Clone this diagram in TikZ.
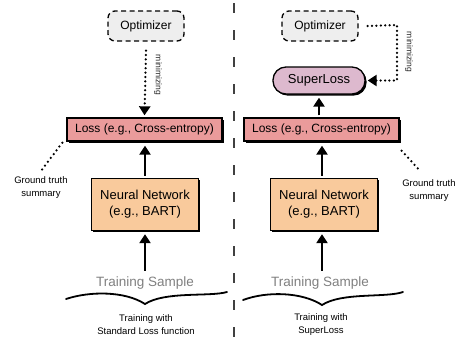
\documentclass[tikz,border=0pt]{standalone}
\usepackage{fontspec}
\setmainfont{Liberation Sans}
\usetikzlibrary{arrows.meta}
\definecolor{lossfill}{HTML}{EA9B9B}
\definecolor{nnfill}{HTML}{F9CA9C}
\definecolor{slfill}{HTML}{DDB9CE}
\definecolor{optfill}{HTML}{EEEEEE}
\definecolor{sampgray}{HTML}{808080}
\tikzset{
  shadowed/.style={preaction={fill=black, transform canvas={shift={(1.6pt,-1.6pt)}}}},
  lossbox/.style={draw=black, line width=1.3pt, fill=lossfill, shadowed, minimum width=155pt, minimum height=23pt, inner sep=0pt, font=\fontsize{12}{14}\selectfont},
  nnbox/.style={draw=black, line width=1.3pt, fill=nnfill, shadowed, minimum width=107pt, minimum height=52pt, inner sep=0pt, align=center, font=\fontsize{13}{16}\selectfont},
  optbox/.style={draw=black, line width=1.3pt, dash pattern=on 5pt off 3.5pt, rounded corners=7pt, fill=optfill, minimum width=76pt, minimum height=30pt, inner sep=0pt, font=\fontsize{12}{14}\selectfont},
  slbox/.style={draw=black, line width=1.3pt, fill=slfill, shadowed, rounded corners=13pt, minimum width=92pt, minimum height=27pt, inner sep=0pt, font=\fontsize{13}{15}\selectfont},
  samp/.style={text=sampgray, font=\fontsize{13.5}{16}\selectfont, inner sep=0pt},
  smalltxt/.style={align=center, font=\fontsize{9.5}{13}\selectfont, inner sep=0pt},
  minlab/.style={rotate=-90, font=\fontsize{8.5}{10}\selectfont, inner sep=0pt, text=black!85},
  thickarrow/.style={line width=2.4pt, -{Triangle[width=11pt,length=9pt]}},
  dotarrow/.style={line width=2.5pt, line cap=round, dash pattern=on 0pt off 4.4pt, -{Triangle[width=11pt,length=9pt]}},
  dotline/.style={line width=2.5pt, line cap=round, dash pattern=on 0pt off 4.8pt},
  bracestyle/.style={line width=1.8pt, line cap=round}
}
\begin{document}
\begin{tikzpicture}[x=1pt,y=-1pt]
\useasboundingbox (0,0) rectangle (461,338);
% divider
\coordinate (dtop) at (234,3);
\coordinate (dbot) at (234,338);
\draw[line width=2pt, color=black!75, dash pattern=on 10pt off 17pt] (dtop) -- (dbot);

% ---------- left ----------
\node[optbox] (optL) at (146,26) {Optimizer};
\node[lossbox] (lossL) at (144.5,129.5) {Loss (e.g., Cross-entropy)};
\node[nnbox] (nnL) at (145,204.5) {Neural Network\\(e.g., BART)};
\node[samp] (sampL) at (145,283) {Training Sample};
\node[smalltxt] (gtL) at (41,188) {Ground truth\\summary};
\node[smalltxt] (capL) at (146,325) {Training with\\Standard Loss function};
\node[minlab] (minL) at (158,75) {minimizing};

\draw[dotarrow] ([yshift=-9pt]optL.south) -- ([yshift=2pt]lossL.north);
\draw[thickarrow] ([yshift=2pt]nnL.north -| 145,0) -- ([yshift=-4pt]lossL.south -| 145,0);
\draw[thickarrow] ([yshift=6pt]sampL.north) -- ([yshift=-3pt]nnL.south);
\draw[dotline] ([shift={(-4pt,-1pt)}]lossL.south west) -- ([yshift=6pt]gtL.north);
\coordinate (bL1) at (66,299);
\coordinate (bLm) at (145,304);
\coordinate (bL2) at (227,292);
\draw[bracestyle] (bL1) .. controls (90,291) and (125,291) .. (bLm) .. controls (165,291) and (210,297) .. (bL2);

% ---------- right ----------
\node[optbox] (optR) at (320,26) {Optimizer};
\node[slbox] (sl) at (319,80.5) {SuperLoss};
\node[lossbox] (lossR) at (321.5,129.5) {Loss (e.g., Cross-entropy)};
\node[nnbox] (nnR) at (324,204.5) {Neural Network\\(e.g., BART)};
\node[samp] (sampR) at (320,283) {Training Sample};
\node[smalltxt] (gtR) at (429,191) {Ground truth\\summary};
\node[smalltxt] (capR) at (321,325) {Training with\\SuperLoss};
\node[minlab] (minR) at (409,52) {minimizing};

\coordinate (mc) at (397,25);
\draw[dotarrow] ([xshift=9pt]optR.east) -- (mc) |- ([xshift=2pt]sl.east);
\draw[thickarrow] ([yshift=2pt]lossR.north -| sl.south) -- ([yshift=-3pt]sl.south);
\draw[thickarrow] ([yshift=2pt]nnR.north -| 322,0) -- ([yshift=-4pt]lossR.south -| 322,0);
\draw[thickarrow] ([yshift=6pt]sampR.north -| 322,0) -- ([yshift=-3pt]nnR.south -| 322,0);
\draw[dotline] ([shift={(2pt,-9pt)}]lossR.south east) -- ([yshift=8pt]gtR.north -| 421,0);
\coordinate (bR1) at (243,300);
\coordinate (bRm) at (322,305);
\coordinate (bR2) at (403,292);
\draw[bracestyle] (bR1) .. controls (267,291) and (302,292) .. (bRm) .. controls (342,292) and (386,298) .. (bR2);
\end{tikzpicture}
\end{document}
